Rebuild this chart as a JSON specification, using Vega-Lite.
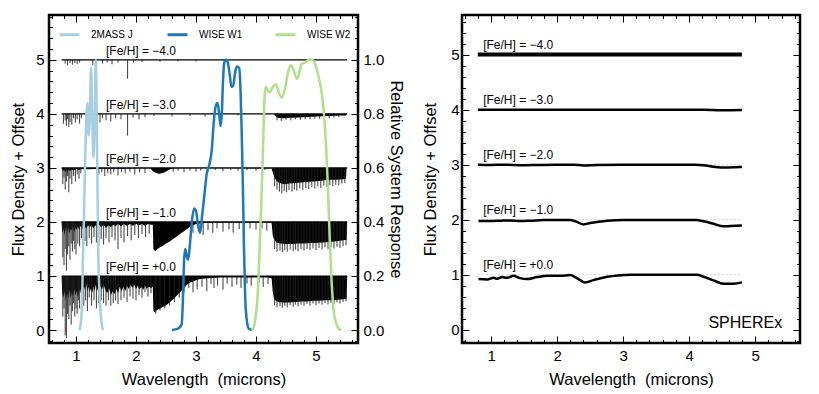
{
"$schema":"https://vega.github.io/schema/vega-lite/v6.json",
"padding":{"left":9,"top":8,"right":5,"bottom":5},
"background":"white",
"spacing":15,
"datasets":{
"spec":[
{"c":1,"w":0.76,"f":1},{"c":1,"w":0.77,"f":0.70},{"c":1,"w":0.79,"f":0.60},{"c":1,"w":0.81,"f":0.72},{"c":1,"w":0.83,"f":0.55},{"c":1,"w":0.85,"f":0.68},{"c":1,"w":0.87,"f":0.58},{"c":1,"w":0.89,"f":0.74},{"c":1,"w":0.91,"f":0.58},{"c":1,"w":0.93,"f":0.70},{"c":1,"w":0.95,"f":0.62},{"c":1,"w":0.97,"f":0.76},{"c":1,"w":0.99,"f":0.64},{"c":1,"w":1.01,"f":0.72},{"c":1,"w":1.03,"f":0.60},{"c":1,"w":1.05,"f":0.75},{"c":1,"w":1.07,"f":0.68},{"c":1,"w":1.09,"f":0.80},{"c":1,"w":1.11,"f":0.70},{"c":1,"w":1.13,"f":0.82},{"c":1,"w":1.15,"f":0.74},{"c":1,"w":1.17,"f":0.85},{"c":1,"w":1.19,"f":0.72},{"c":1,"w":1.21,"f":0.80},{"c":1,"w":1.23,"f":0.70},{"c":1,"w":1.25,"f":0.78},{"c":1,"w":1.27,"f":0.68},{"c":1,"w":1.29,"f":0.80},{"c":1,"w":1.31,"f":0.72},{"c":1,"w":1.33,"f":0.84},{"c":1,"w":1.35,"f":0.78},{"c":1,"w":1.37,"f":0.70},{"c":1,"w":1.40,"f":0.82},{"c":1,"w":1.43,"f":0.74},{"c":1,"w":1.46,"f":0.84},{"c":1,"w":1.49,"f":0.74},{"c":1,"w":1.52,"f":0.68},{"c":1,"w":1.55,"f":0.78},{"c":1,"w":1.58,"f":0.64},{"c":1,"w":1.61,"f":0.72},{"c":1,"w":1.64,"f":0.66},{"c":1,"w":1.67,"f":0.76},{"c":1,"w":1.70,"f":0.68},{"c":1,"w":1.73,"f":0.80},{"c":1,"w":1.76,"f":0.72},{"c":1,"w":1.79,"f":0.80},{"c":1,"w":1.82,"f":0.72},{"c":1,"w":1.85,"f":0.82},{"c":1,"w":1.88,"f":0.76},{"c":1,"w":1.91,"f":0.84},{"c":1,"w":1.94,"f":0.78},{"c":1,"w":1.97,"f":0.84},{"c":1,"w":2.00,"f":0.76},{"c":1,"w":2.03,"f":0.82},{"c":1,"w":2.06,"f":0.75},{"c":1,"w":2.09,"f":0.80},{"c":1,"w":2.12,"f":0.74},{"c":1,"w":2.15,"f":0.82},{"c":1,"w":2.18,"f":0.76},{"c":1,"w":2.21,"f":0.80},{"c":1,"w":2.25,"f":0.78},{"c":1,"w":2.28,"f":0.80},{"c":1,"w":2.29,"f":0.36},{"c":1,"w":2.31,"f":0.33},{"c":1,"w":2.35,"f":0.37},{"c":1,"w":2.40,"f":0.40},{"c":1,"w":2.45,"f":0.43},{"c":1,"w":2.50,"f":0.46},{"c":1,"w":2.55,"f":0.50},{"c":1,"w":2.60,"f":0.55},{"c":1,"w":2.65,"f":0.60},{"c":1,"w":2.70,"f":0.66},{"c":1,"w":2.75,"f":0.72},{"c":1,"w":2.80,"f":0.78},{"c":1,"w":2.85,"f":0.84},{"c":1,"w":2.90,"f":0.88},{"c":1,"w":2.95,"f":0.90},{"c":1,"w":3.00,"f":0.92},{"c":1,"w":3.05,"f":0.94},{"c":1,"w":3.10,"f":0.95},{"c":1,"w":3.20,"f":0.96},{"c":1,"w":3.40,"f":0.97},{"c":1,"w":3.60,"f":0.97},{"c":1,"w":3.80,"f":0.97},{"c":1,"w":4.00,"f":0.97},{"c":1,"w":4.20,"f":0.97},{"c":1,"w":4.26,"f":0.96},{"c":1,"w":4.28,"f":0.70},{"c":1,"w":4.30,"f":0.58},{"c":1,"w":4.33,"f":0.54},{"c":1,"w":4.38,"f":0.52},{"c":1,"w":4.45,"f":0.51},{"c":1,"w":4.55,"f":0.51},{"c":1,"w":4.65,"f":0.52},{"c":1,"w":4.75,"f":0.53},{"c":1,"w":4.85,"f":0.53},{"c":1,"w":4.95,"f":0.54},{"c":1,"w":5.05,"f":0.54},{"c":1,"w":5.15,"f":0.55},{"c":1,"w":5.25,"f":0.55},{"c":1,"w":5.35,"f":0.56},{"c":1,"w":5.45,"f":0.57},{"c":1,"w":5.51,"f":0.58},{"c":1,"w":5.52,"f":1},
{"c":2,"w":0.76,"f":2},{"c":2,"w":0.77,"f":1.80},{"c":2,"w":0.79,"f":1.88},{"c":2,"w":0.81,"f":1.75},{"c":2,"w":0.83,"f":1.90},{"c":2,"w":0.85,"f":1.82},{"c":2,"w":0.87,"f":1.90},{"c":2,"w":0.89,"f":1.78},{"c":2,"w":0.91,"f":1.88},{"c":2,"w":0.93,"f":1.84},{"c":2,"w":0.95,"f":1.92},{"c":2,"w":0.97,"f":1.80},{"c":2,"w":0.99,"f":1.90},{"c":2,"w":1.01,"f":1.85},{"c":2,"w":1.03,"f":1.92},{"c":2,"w":1.05,"f":1.86},{"c":2,"w":1.08,"f":1.93},{"c":2,"w":1.11,"f":1.87},{"c":2,"w":1.14,"f":1.93},{"c":2,"w":1.17,"f":1.88},{"c":2,"w":1.20,"f":1.94},{"c":2,"w":1.23,"f":1.90},{"c":2,"w":1.26,"f":1.94},{"c":2,"w":1.29,"f":1.88},{"c":2,"w":1.32,"f":1.94},{"c":2,"w":1.35,"f":1.90},{"c":2,"w":1.38,"f":1.95},{"c":2,"w":1.42,"f":1.90},{"c":2,"w":1.46,"f":1.95},{"c":2,"w":1.50,"f":1.89},{"c":2,"w":1.54,"f":1.94},{"c":2,"w":1.58,"f":1.90},{"c":2,"w":1.62,"f":1.95},{"c":2,"w":1.66,"f":1.92},{"c":2,"w":1.70,"f":1.96},{"c":2,"w":1.75,"f":1.92},{"c":2,"w":1.80,"f":1.96},{"c":2,"w":1.85,"f":1.93},{"c":2,"w":1.90,"f":1.96},{"c":2,"w":1.95,"f":1.93},{"c":2,"w":2.00,"f":1.96},{"c":2,"w":2.05,"f":1.94},{"c":2,"w":2.10,"f":1.96},{"c":2,"w":2.15,"f":1.93},{"c":2,"w":2.20,"f":1.96},{"c":2,"w":2.25,"f":1.95},{"c":2,"w":2.28,"f":1.95},{"c":2,"w":2.29,"f":1.50},{"c":2,"w":2.32,"f":1.46},{"c":2,"w":2.36,"f":1.50},{"c":2,"w":2.40,"f":1.53},{"c":2,"w":2.45,"f":1.56},{"c":2,"w":2.50,"f":1.60},{"c":2,"w":2.55,"f":1.63},{"c":2,"w":2.60,"f":1.67},{"c":2,"w":2.65,"f":1.71},{"c":2,"w":2.70,"f":1.75},{"c":2,"w":2.75,"f":1.79},{"c":2,"w":2.80,"f":1.83},{"c":2,"w":2.85,"f":1.87},{"c":2,"w":2.90,"f":1.91},{"c":2,"w":2.95,"f":1.94},{"c":2,"w":3.00,"f":1.96},{"c":2,"w":3.10,"f":1.98},{"c":2,"w":3.30,"f":1.985},{"c":2,"w":3.60,"f":1.985},{"c":2,"w":3.90,"f":1.985},{"c":2,"w":4.20,"f":1.985},{"c":2,"w":4.26,"f":1.98},{"c":2,"w":4.28,"f":1.75},{"c":2,"w":4.30,"f":1.68},{"c":2,"w":4.34,"f":1.62},{"c":2,"w":4.40,"f":1.60},{"c":2,"w":4.50,"f":1.59},{"c":2,"w":4.60,"f":1.59},{"c":2,"w":4.70,"f":1.60},{"c":2,"w":4.80,"f":1.60},{"c":2,"w":4.90,"f":1.61},{"c":2,"w":5.00,"f":1.61},{"c":2,"w":5.10,"f":1.62},{"c":2,"w":5.20,"f":1.63},{"c":2,"w":5.30,"f":1.64},{"c":2,"w":5.40,"f":1.65},{"c":2,"w":5.45,"f":1.66},{"c":2,"w":5.51,"f":1.67},{"c":2,"w":5.52,"f":2},
{"c":3,"w":0.76,"f":3},{"c":3,"w":0.78,"f":2.94},{"c":3,"w":0.80,"f":2.97},{"c":3,"w":0.82,"f":2.92},{"c":3,"w":0.84,"f":2.96},{"c":3,"w":0.86,"f":2.93},{"c":3,"w":0.88,"f":2.97},{"c":3,"w":0.90,"f":2.94},{"c":3,"w":0.93,"f":2.97},{"c":3,"w":0.96,"f":2.95},{"c":3,"w":1.00,"f":2.98},{"c":3,"w":1.05,"f":2.96},{"c":3,"w":1.10,"f":2.98},{"c":3,"w":1.20,"f":2.975},{"c":3,"w":1.30,"f":2.98},{"c":3,"w":1.40,"f":2.985},{"c":3,"w":1.60,"f":2.985},{"c":3,"w":1.80,"f":2.985},{"c":3,"w":2.00,"f":2.99},{"c":3,"w":2.24,"f":2.99},{"c":3,"w":2.28,"f":2.94},{"c":3,"w":2.33,"f":2.91},{"c":3,"w":2.38,"f":2.89},{"c":3,"w":2.43,"f":2.90},{"c":3,"w":2.48,"f":2.92},{"c":3,"w":2.53,"f":2.95},{"c":3,"w":2.58,"f":2.98},{"c":3,"w":2.65,"f":2.99},{"c":3,"w":3.00,"f":2.995},{"c":3,"w":4.26,"f":2.99},{"c":3,"w":4.29,"f":2.88},{"c":3,"w":4.32,"f":2.80},{"c":3,"w":4.36,"f":2.74},{"c":3,"w":4.42,"f":2.71},{"c":3,"w":4.48,"f":2.70},{"c":3,"w":4.55,"f":2.71},{"c":3,"w":4.65,"f":2.72},{"c":3,"w":4.75,"f":2.73},{"c":3,"w":4.85,"f":2.74},{"c":3,"w":4.95,"f":2.75},{"c":3,"w":5.05,"f":2.76},{"c":3,"w":5.15,"f":2.77},{"c":3,"w":5.25,"f":2.78},{"c":3,"w":5.35,"f":2.78},{"c":3,"w":5.45,"f":2.79},{"c":3,"w":5.50,"f":2.80},{"c":3,"w":5.51,"f":3},
{"c":4,"w":4.30,"f":4},{"c":4,"w":4.32,"f":3.96},{"c":4,"w":4.36,"f":3.93},{"c":4,"w":4.45,"f":3.92},{"c":4,"w":4.60,"f":3.93},{"c":4,"w":4.80,"f":3.94},{"c":4,"w":5.00,"f":3.95},{"c":4,"w":5.20,"f":3.96},{"c":4,"w":5.40,"f":3.97},{"c":4,"w":5.50,"f":3.97},{"c":4,"w":5.51,"f":4}
],
"spikes":[
{"c":1,"w":0.78,"f":0.25},{"c":1,"w":0.80,"f":0.40},{"c":1,"w":0.82,"f":-0.10},{"c":1,"w":0.84,"f":-0.15},{"c":1,"w":0.86,"f":0.30},{"c":1,"w":0.88,"f":0.20},{"c":1,"w":0.90,"f":0.45},{"c":1,"w":0.92,"f":0.10},{"c":1,"w":0.94,"f":0.35},{"c":1,"w":0.96,"f":0.50},{"c":1,"w":0.98,"f":0.25},{"c":1,"w":1.00,"f":0.40},{"c":1,"w":1.02,"f":0.30},{"c":1,"w":1.04,"f":0.55},{"c":1,"w":1.06,"f":0.40},{"c":1,"w":1.10,"f":0.50},{"c":1,"w":1.13,"f":0.45},{"c":1,"w":1.16,"f":0.55},{"c":1,"w":1.19,"f":0.35},{"c":1,"w":1.22,"f":0.60},{"c":1,"w":1.26,"f":0.45},{"c":1,"w":1.30,"f":0.55},{"c":1,"w":1.34,"f":0.40},{"c":1,"w":1.38,"f":0.50},{"c":1,"w":1.42,"f":0.55},{"c":1,"w":1.46,"f":0.50},{"c":1,"w":1.50,"f":0.45},{"c":1,"w":1.54,"f":0.55},{"c":1,"w":1.58,"f":0.45},{"c":1,"w":1.62,"f":0.50},{"c":1,"w":1.66,"f":0.55},{"c":1,"w":1.70,"f":0.48},{"c":1,"w":1.75,"f":0.55},{"c":1,"w":1.80,"f":0.60},{"c":1,"w":1.85,"f":0.52},{"c":1,"w":1.90,"f":0.62},{"c":1,"w":1.95,"f":0.58},{"c":1,"w":2.00,"f":0.55},{"c":1,"w":2.05,"f":0.65},{"c":1,"w":2.10,"f":0.60},{"c":1,"w":2.15,"f":0.70},{"c":1,"w":2.20,"f":0.62},{"c":1,"w":2.25,"f":0.68},{"c":1,"w":2.33,"f":0.30},{"c":1,"w":2.40,"f":0.36},{"c":1,"w":2.48,"f":0.40},{"c":1,"w":2.56,"f":0.45},{"c":1,"w":2.64,"f":0.52},{"c":1,"w":2.72,"f":0.60},{"c":1,"w":2.80,"f":0.70},{"c":1,"w":2.88,"f":0.78},{"c":1,"w":2.95,"f":0.70},{"c":1,"w":3.02,"f":0.75},{"c":1,"w":3.10,"f":0.80},{"c":1,"w":3.18,"f":0.72},{"c":1,"w":3.25,"f":0.85},{"c":1,"w":3.30,"f":0.78},{"c":1,"w":3.36,"f":0.82},{"c":1,"w":3.45,"f":0.75},{"c":1,"w":3.52,"f":0.86},{"c":1,"w":3.60,"f":0.80},{"c":1,"w":3.68,"f":0.84},{"c":1,"w":3.75,"f":0.78},{"c":1,"w":3.85,"f":0.86},{"c":1,"w":3.92,"f":0.82},{"c":1,"w":4.05,"f":0.88},{"c":1,"w":4.12,"f":0.80},{"c":1,"w":4.20,"f":0.85},{"c":1,"w":4.31,"f":0.46},{"c":1,"w":4.35,"f":0.42},{"c":1,"w":4.40,"f":0.44},{"c":1,"w":4.44,"f":0.41},{"c":1,"w":4.48,"f":0.45},{"c":1,"w":4.52,"f":0.42},{"c":1,"w":4.57,"f":0.46},{"c":1,"w":4.62,"f":0.43},{"c":1,"w":4.66,"f":0.47},{"c":1,"w":4.70,"f":0.44},{"c":1,"w":4.75,"f":0.47},{"c":1,"w":4.80,"f":0.45},{"c":1,"w":4.85,"f":0.48},{"c":1,"w":4.90,"f":0.45},{"c":1,"w":4.95,"f":0.49},{"c":1,"w":5.00,"f":0.46},{"c":1,"w":5.05,"f":0.49},{"c":1,"w":5.10,"f":0.47},{"c":1,"w":5.15,"f":0.50},{"c":1,"w":5.20,"f":0.47},{"c":1,"w":5.25,"f":0.50},{"c":1,"w":5.30,"f":0.48},{"c":1,"w":5.35,"f":0.51},{"c":1,"w":5.40,"f":0.49},{"c":1,"w":5.45,"f":0.52},{"c":1,"w":5.50,"f":0.53},
{"c":2,"w":0.78,"f":1.35},{"c":2,"w":0.80,"f":1.20},{"c":2,"w":0.82,"f":1.50},{"c":2,"w":0.84,"f":1.10},{"c":2,"w":0.86,"f":1.40},{"c":2,"w":0.88,"f":1.55},{"c":2,"w":0.90,"f":1.30},{"c":2,"w":0.92,"f":1.60},{"c":2,"w":0.94,"f":1.45},{"c":2,"w":0.96,"f":1.65},{"c":2,"w":0.98,"f":1.50},{"c":2,"w":1.00,"f":1.40},{"c":2,"w":1.03,"f":1.60},{"c":2,"w":1.06,"f":1.55},{"c":2,"w":1.09,"f":1.70},{"c":2,"w":1.12,"f":1.50},{"c":2,"w":1.15,"f":1.65},{"c":2,"w":1.18,"f":1.55},{"c":2,"w":1.22,"f":1.70},{"c":2,"w":1.26,"f":1.60},{"c":2,"w":1.30,"f":1.72},{"c":2,"w":1.34,"f":1.62},{"c":2,"w":1.38,"f":1.55},{"c":2,"w":1.42,"f":1.68},{"c":2,"w":1.46,"f":1.58},{"c":2,"w":1.50,"f":1.70},{"c":2,"w":1.55,"f":1.62},{"c":2,"w":1.60,"f":1.72},{"c":2,"w":1.65,"f":1.66},{"c":2,"w":1.70,"f":1.50},{"c":2,"w":1.75,"f":1.70},{"c":2,"w":1.80,"f":1.62},{"c":2,"w":1.86,"f":1.74},{"c":2,"w":1.92,"f":1.66},{"c":2,"w":1.98,"f":1.76},{"c":2,"w":2.04,"f":1.70},{"c":2,"w":2.10,"f":1.78},{"c":2,"w":2.16,"f":1.72},{"c":2,"w":2.22,"f":1.78},{"c":2,"w":2.95,"f":1.80},{"c":2,"w":3.05,"f":1.82},{"c":2,"w":3.12,"f":1.76},{"c":2,"w":3.20,"f":1.85},{"c":2,"w":3.28,"f":1.80},{"c":2,"w":3.35,"f":1.88},{"c":2,"w":3.45,"f":1.82},{"c":2,"w":3.55,"f":1.86},{"c":2,"w":3.62,"f":1.80},{"c":2,"w":3.72,"f":1.87},{"c":2,"w":3.80,"f":1.84},{"c":2,"w":3.90,"f":1.88},{"c":2,"w":4.00,"f":1.86},{"c":2,"w":4.10,"f":1.88},{"c":2,"w":4.18,"f":1.84},{"c":2,"w":4.31,"f":1.50},{"c":2,"w":4.35,"f":1.45},{"c":2,"w":4.40,"f":1.47},{"c":2,"w":4.44,"f":1.44},{"c":2,"w":4.48,"f":1.48},{"c":2,"w":4.52,"f":1.45},{"c":2,"w":4.57,"f":1.49},{"c":2,"w":4.62,"f":1.46},{"c":2,"w":4.66,"f":1.49},{"c":2,"w":4.70,"f":1.46},{"c":2,"w":4.75,"f":1.50},{"c":2,"w":4.80,"f":1.47},{"c":2,"w":4.85,"f":1.50},{"c":2,"w":4.90,"f":1.48},{"c":2,"w":4.95,"f":1.51},{"c":2,"w":5.00,"f":1.48},{"c":2,"w":5.05,"f":1.52},{"c":2,"w":5.10,"f":1.49},{"c":2,"w":5.15,"f":1.53},{"c":2,"w":5.20,"f":1.50},{"c":2,"w":5.25,"f":1.53},{"c":2,"w":5.30,"f":1.51},{"c":2,"w":5.35,"f":1.54},{"c":2,"w":5.40,"f":1.52},{"c":2,"w":5.45,"f":1.55},{"c":2,"w":5.50,"f":1.57},
{"c":3,"w":0.78,"f":2.70},{"c":3,"w":0.80,"f":2.82},{"c":3,"w":0.82,"f":2.60},{"c":3,"w":0.84,"f":2.75},{"c":3,"w":0.86,"f":2.85},{"c":3,"w":0.88,"f":2.55},{"c":3,"w":0.90,"f":2.80},{"c":3,"w":0.93,"f":2.70},{"c":3,"w":0.96,"f":2.85},{"c":3,"w":0.99,"f":2.75},{"c":3,"w":1.02,"f":2.88},{"c":3,"w":1.05,"f":2.80},{"c":3,"w":1.08,"f":2.90},{"c":3,"w":1.38,"f":2.88},{"c":3,"w":1.43,"f":2.92},{"c":3,"w":1.48,"f":2.85},{"c":3,"w":1.53,"f":2.90},{"c":3,"w":1.58,"f":2.88},{"c":3,"w":1.63,"f":2.92},{"c":3,"w":1.70,"f":2.86},{"c":3,"w":1.76,"f":2.92},{"c":3,"w":1.82,"f":2.90},{"c":3,"w":1.90,"f":2.93},{"c":3,"w":1.98,"f":2.88},{"c":3,"w":2.06,"f":2.92},{"c":3,"w":2.15,"f":2.90},{"c":3,"w":2.62,"f":2.93},{"c":3,"w":2.70,"f":2.95},{"c":3,"w":2.80,"f":2.92},{"c":3,"w":2.90,"f":2.95},{"c":3,"w":3.00,"f":2.93},{"c":3,"w":3.08,"f":2.95},{"c":3,"w":3.20,"f":2.94},{"c":3,"w":3.32,"f":2.96},{"c":3,"w":3.45,"f":2.94},{"c":3,"w":3.58,"f":2.96},{"c":3,"w":3.70,"f":2.95},{"c":3,"w":3.85,"f":2.96},{"c":3,"w":4.00,"f":2.95},{"c":3,"w":4.15,"f":2.96},{"c":3,"w":4.31,"f":2.66},{"c":3,"w":4.35,"f":2.60},{"c":3,"w":4.39,"f":2.56},{"c":3,"w":4.43,"f":2.53},{"c":3,"w":4.47,"f":2.57},{"c":3,"w":4.51,"f":2.55},{"c":3,"w":4.55,"f":2.59},{"c":3,"w":4.60,"f":2.56},{"c":3,"w":4.64,"f":2.60},{"c":3,"w":4.68,"f":2.58},{"c":3,"w":4.73,"f":2.62},{"c":3,"w":4.78,"f":2.59},{"c":3,"w":4.83,"f":2.63},{"c":3,"w":4.88,"f":2.61},{"c":3,"w":4.93,"f":2.64},{"c":3,"w":4.98,"f":2.62},{"c":3,"w":5.03,"f":2.66},{"c":3,"w":5.08,"f":2.63},{"c":3,"w":5.13,"f":2.67},{"c":3,"w":5.18,"f":2.65},{"c":3,"w":5.23,"f":2.68},{"c":3,"w":5.28,"f":2.66},{"c":3,"w":5.33,"f":2.69},{"c":3,"w":5.38,"f":2.68},{"c":3,"w":5.43,"f":2.71},{"c":3,"w":5.48,"f":2.72},
{"c":4,"w":0.79,"f":3.82},{"c":4,"w":0.82,"f":3.88},{"c":4,"w":0.84,"f":3.78},{"c":4,"w":0.86,"f":3.90},{"c":4,"w":0.88,"f":3.76},{"c":4,"w":0.90,"f":3.85},{"c":4,"w":0.93,"f":3.80},{"c":4,"w":0.96,"f":3.92},{"c":4,"w":0.99,"f":3.84},{"c":4,"w":1.02,"f":3.90},{"c":4,"w":1.06,"f":3.82},{"c":4,"w":1.09,"f":3.92},{"c":4,"w":1.40,"f":3.84},{"c":4,"w":1.44,"f":3.92},{"c":4,"w":1.50,"f":3.88},{"c":4,"w":1.58,"f":3.86},{"c":4,"w":1.66,"f":3.92},{"c":4,"w":1.75,"f":3.90},{"c":4,"w":1.86,"f":3.60},{"c":4,"w":1.95,"f":3.93},{"c":4,"w":2.05,"f":3.90},{"c":4,"w":2.15,"f":3.94},{"c":4,"w":2.30,"f":3.96},{"c":4,"w":2.60,"f":3.95},{"c":4,"w":2.90,"f":3.96},{"c":4,"w":3.15,"f":3.95},{"c":4,"w":3.40,"f":3.96},{"c":4,"w":3.70,"f":3.97},{"c":4,"w":4.35,"f":3.88},{"c":4,"w":4.42,"f":3.87},{"c":4,"w":4.50,"f":3.89},{"c":4,"w":4.58,"f":3.88},{"c":4,"w":4.66,"f":3.90},{"c":4,"w":4.74,"f":3.89},{"c":4,"w":4.82,"f":3.90},{"c":4,"w":4.90,"f":3.90},{"c":4,"w":4.98,"f":3.91},{"c":4,"w":5.06,"f":3.91},{"c":4,"w":5.14,"f":3.92},{"c":4,"w":5.22,"f":3.92},{"c":4,"w":5.30,"f":3.93},{"c":4,"w":5.38,"f":3.94},
{"c":5,"w":0.82,"f":4.93},{"c":5,"w":0.86,"f":4.90},{"c":5,"w":0.90,"f":4.94},{"c":5,"w":0.94,"f":4.91},{"c":5,"w":0.98,"f":4.94},{"c":5,"w":1.02,"f":4.92},{"c":5,"w":1.06,"f":4.95},{"c":5,"w":1.28,"f":4.90},{"c":5,"w":1.44,"f":4.93},{"c":5,"w":1.52,"f":4.95},{"c":5,"w":1.60,"f":4.92},{"c":5,"w":1.70,"f":4.95},{"c":5,"w":1.86,"f":4.65},{"c":5,"w":1.96,"f":4.95},{"c":5,"w":2.10,"f":4.96},{"c":5,"w":2.40,"f":4.96},{"c":5,"w":2.70,"f":4.97},{"c":5,"w":3.00,"f":4.97}
],
"cont":[{"c":1,"w":0.76,"w2":5.52},{"c":2,"w":0.76,"w2":5.52},{"c":3,"w":0.76,"w2":5.52},{"c":4,"w":0.76,"w2":5.52},{"c":5,"w":0.76,"w2":5.52}],
"labL":[{"w":1.5,"y":5.16,"t":"[Fe/H] = −4.0"},{"w":1.5,"y":4.16,"t":"[Fe/H] = −3.0"},{"w":1.5,"y":3.16,"t":"[Fe/H] = −2.0"},{"w":1.5,"y":2.16,"t":"[Fe/H] = −1.0"},{"w":1.5,"y":1.16,"t":"[Fe/H] = +0.0"}],
"labR":[{"w":0.88,"y":5.17,"t":"[Fe/H] = −4.0"},{"w":0.88,"y":4.17,"t":"[Fe/H] = −3.0"},{"w":0.88,"y":3.17,"t":"[Fe/H] = −2.0"},{"w":0.88,"y":2.17,"t":"[Fe/H] = −1.0"},{"w":0.88,"y":1.17,"t":"[Fe/H] = +0.0"}],
"filt":[
{"b":"2MASS J","w":1.06,"r":0},{"b":"2MASS J","w":1.09,"r":0.05},{"b":"2MASS J","w":1.12,"r":0.3},{"b":"2MASS J","w":1.15,"r":0.6},{"b":"2MASS J","w":1.17,"r":0.78},{"b":"2MASS J","w":1.19,"r":0.84},{"b":"2MASS J","w":1.21,"r":0.72},{"b":"2MASS J","w":1.23,"r":0.78},{"b":"2MASS J","w":1.25,"r":0.97},{"b":"2MASS J","w":1.27,"r":0.80},{"b":"2MASS J","w":1.29,"r":0.64},{"b":"2MASS J","w":1.31,"r":0.75},{"b":"2MASS J","w":1.33,"r":1.0},{"b":"2MASS J","w":1.35,"r":0.7},{"b":"2MASS J","w":1.37,"r":0.3},{"b":"2MASS J","w":1.40,"r":0.1},{"b":"2MASS J","w":1.43,"r":0.02},{"b":"2MASS J","w":1.45,"r":0},
{"b":"WISE W1","w":2.60,"r":0},{"b":"WISE W1","w":2.70,"r":0.005},{"b":"WISE W1","w":2.76,"r":0.02},{"b":"WISE W1","w":2.78,"r":0.1},{"b":"WISE W1","w":2.80,"r":0.25},{"b":"WISE W1","w":2.82,"r":0.30},{"b":"WISE W1","w":2.85,"r":0.27},{"b":"WISE W1","w":2.87,"r":0.26},{"b":"WISE W1","w":2.90,"r":0.32},{"b":"WISE W1","w":2.93,"r":0.40},{"b":"WISE W1","w":2.97,"r":0.45},{"b":"WISE W1","w":3.00,"r":0.44},{"b":"WISE W1","w":3.04,"r":0.38},{"b":"WISE W1","w":3.07,"r":0.36},{"b":"WISE W1","w":3.10,"r":0.42},{"b":"WISE W1","w":3.14,"r":0.50},{"b":"WISE W1","w":3.18,"r":0.58},{"b":"WISE W1","w":3.22,"r":0.61},{"b":"WISE W1","w":3.26,"r":0.66},{"b":"WISE W1","w":3.30,"r":0.78},{"b":"WISE W1","w":3.33,"r":0.83},{"b":"WISE W1","w":3.36,"r":0.84},{"b":"WISE W1","w":3.39,"r":0.79},{"b":"WISE W1","w":3.41,"r":0.755},{"b":"WISE W1","w":3.43,"r":0.80},{"b":"WISE W1","w":3.45,"r":0.92},{"b":"WISE W1","w":3.47,"r":0.99},{"b":"WISE W1","w":3.50,"r":1.0},{"b":"WISE W1","w":3.53,"r":0.99},{"b":"WISE W1","w":3.56,"r":0.95},{"b":"WISE W1","w":3.59,"r":0.90},{"b":"WISE W1","w":3.62,"r":0.905},{"b":"WISE W1","w":3.65,"r":0.95},{"b":"WISE W1","w":3.68,"r":0.975},{"b":"WISE W1","w":3.72,"r":0.97},{"b":"WISE W1","w":3.74,"r":0.9},{"b":"WISE W1","w":3.76,"r":0.75},{"b":"WISE W1","w":3.78,"r":0.55},{"b":"WISE W1","w":3.80,"r":0.3},{"b":"WISE W1","w":3.82,"r":0.12},{"b":"WISE W1","w":3.85,"r":0.03},{"b":"WISE W1","w":3.88,"r":0.005},{"b":"WISE W1","w":3.93,"r":0},
{"b":"WISE W2","w":3.93,"r":0},{"b":"WISE W2","w":3.96,"r":0.01},{"b":"WISE W2","w":4.0,"r":0.06},{"b":"WISE W2","w":4.03,"r":0.14},{"b":"WISE W2","w":4.06,"r":0.30},{"b":"WISE W2","w":4.09,"r":0.48},{"b":"WISE W2","w":4.12,"r":0.70},{"b":"WISE W2","w":4.14,"r":0.85},{"b":"WISE W2","w":4.16,"r":0.90},{"b":"WISE W2","w":4.20,"r":0.885},{"b":"WISE W2","w":4.23,"r":0.88},{"b":"WISE W2","w":4.28,"r":0.90},{"b":"WISE W2","w":4.33,"r":0.91},{"b":"WISE W2","w":4.38,"r":0.88},{"b":"WISE W2","w":4.43,"r":0.86},{"b":"WISE W2","w":4.48,"r":0.89},{"b":"WISE W2","w":4.53,"r":0.95},{"b":"WISE W2","w":4.58,"r":0.98},{"b":"WISE W2","w":4.63,"r":0.96},{"b":"WISE W2","w":4.68,"r":0.93},{"b":"WISE W2","w":4.72,"r":0.95},{"b":"WISE W2","w":4.76,"r":0.985},{"b":"WISE W2","w":4.82,"r":0.99},{"b":"WISE W2","w":4.88,"r":1.0},{"b":"WISE W2","w":4.94,"r":1.0},{"b":"WISE W2","w":5.0,"r":0.975},{"b":"WISE W2","w":5.05,"r":0.93},{"b":"WISE W2","w":5.10,"r":0.87},{"b":"WISE W2","w":5.14,"r":0.78},{"b":"WISE W2","w":5.17,"r":0.67},{"b":"WISE W2","w":5.20,"r":0.52},{"b":"WISE W2","w":5.23,"r":0.33},{"b":"WISE W2","w":5.26,"r":0.18},{"b":"WISE W2","w":5.29,"r":0.08},{"b":"WISE W2","w":5.33,"r":0.03},{"b":"WISE W2","w":5.38,"r":0.005},{"b":"WISE W2","w":5.42,"r":0}
],
"sph":[
{"c":5,"w":0.8,"f":5},{"c":5,"w":2.0,"f":5},{"c":5,"w":3.5,"f":5},{"c":5,"w":4.8,"f":5},
{"c":4,"w":0.8,"f":4},{"c":4,"w":2.0,"f":4},{"c":4,"w":4.2,"f":4},{"c":4,"w":4.5,"f":3.99},{"c":4,"w":4.8,"f":3.995},
{"c":3,"w":0.8,"f":3},{"c":3,"w":1.0,"f":2.995},{"c":3,"w":1.2,"f":3},{"c":3,"w":1.5,"f":2.99},{"c":3,"w":1.7,"f":2.995},{"c":3,"w":2.0,"f":3},{"c":3,"w":2.25,"f":3},{"c":3,"w":2.4,"f":2.985},{"c":3,"w":2.6,"f":2.995},{"c":3,"w":3.0,"f":3},{"c":3,"w":4.1,"f":3},{"c":3,"w":4.25,"f":2.985},{"c":3,"w":4.4,"f":2.96},{"c":3,"w":4.55,"f":2.95},{"c":3,"w":4.7,"f":2.955},{"c":3,"w":4.8,"f":2.96},
{"c":2,"w":0.81,"f":1.976},{"c":2,"w":0.99,"f":1.976},{"c":2,"w":1.14,"f":1.982},{"c":2,"w":1.29,"f":1.988},{"c":2,"w":1.44,"f":1.976},{"c":2,"w":1.6,"f":1.982},{"c":2,"w":1.8,"f":1.994},{"c":2,"w":2.2,"f":1.994},{"c":2,"w":2.28,"f":1.97},{"c":2,"w":2.4,"f":1.915},{"c":2,"w":2.5,"f":1.94},{"c":2,"w":2.76,"f":1.982},{"c":2,"w":3.01,"f":1.994},{"c":2,"w":4.12,"f":1.994},{"c":2,"w":4.2,"f":1.976},{"c":2,"w":4.37,"f":1.927},{"c":2,"w":4.52,"f":1.88},{"c":2,"w":4.62,"f":1.885},{"c":2,"w":4.8,"f":1.897},
{"c":1,"w":0.81,"f":0.921},{"c":1,"w":0.94,"f":0.915},{"c":1,"w":1.04,"f":0.945},{"c":1,"w":1.09,"f":0.927},{"c":1,"w":1.17,"f":0.958},{"c":1,"w":1.24,"f":0.945},{"c":1,"w":1.34,"f":0.982},{"c":1,"w":1.44,"f":0.939},{"c":1,"w":1.54,"f":0.921},{"c":1,"w":1.70,"f":0.958},{"c":1,"w":1.85,"f":0.982},{"c":1,"w":2.05,"f":0.982},{"c":1,"w":2.20,"f":0.994},{"c":1,"w":2.28,"f":0.952},{"c":1,"w":2.35,"f":0.903},{"c":1,"w":2.42,"f":0.861},{"c":1,"w":2.55,"f":0.903},{"c":1,"w":2.76,"f":0.964},{"c":1,"w":2.92,"f":0.988},{"c":1,"w":3.12,"f":1.0},{"c":1,"w":4.12,"f":1.0},{"c":1,"w":4.22,"f":0.964},{"c":1,"w":4.37,"f":0.897},{"c":1,"w":4.52,"f":0.836},{"c":1,"w":4.67,"f":0.836},{"c":1,"w":4.80,"f":0.861}
],
"refs":[{"c":1,"w":0.8,"w2":4.8},{"c":2,"w":0.8,"w2":4.8},{"c":3,"w":0.8,"w2":4.8},{"c":4,"w":0.8,"w2":4.8},{"c":5,"w":0.8,"w2":4.8}],
"sphx":[{"w":5.41,"y":0.13,"t":"SPHEREx"}]
},
"hconcat":[
{
"width":309,"height":328,
"layer":[
{"data":{"name":"spec"},"mark":{"type":"area","color":"black","interpolate":"linear"},
"encoding":{
"x":{"field":"w","type":"quantitative","title":"Wavelength\u00a0 (microns)","scale":{"domain":[0.55,5.7],"nice":false,"zero":false},
"axis":{"orient":"bottom","values":[0.6,0.8,1,1.2,1.4,1.6,1.8,2,2.2,2.4,2.6,2.8,3,3.2,3.4,3.6,3.8,4,4.2,4.4,4.6,4.8,5,5.2,5.4,5.6],"labelExpr":"abs(datum.value-round(datum.value))<0.001 ? format(datum.value,'d') : ''","tickSize":{"condition":{"test":"abs(datum.value-round(datum.value))<0.001","value":-7},"value":-3.5},"labelPadding":12,"titlePadding":5}},
"y":{"field":"f","type":"quantitative","title":"Flux Density + Offset","scale":{"domain":[-0.24,5.83],"nice":false,"zero":false},
"axis":{"orient":"left","values":[-0.2,0,0.2,0.4,0.6,0.8,1,1.2,1.4,1.6,1.8,2,2.2,2.4,2.6,2.8,3,3.2,3.4,3.6,3.8,4,4.2,4.4,4.6,4.8,5,5.2,5.4,5.6,5.8],"labelExpr":"abs(datum.value-round(datum.value))<0.001 ? format(datum.value,'d') : ''","tickSize":{"condition":{"test":"abs(datum.value-round(datum.value))<0.001","value":-7},"value":-3.5},"labelPadding":12,"titlePadding":9}},
"y2":{"field":"c"},
"detail":{"field":"c"}}},
{"data":{"name":"spikes"},"mark":{"type":"rule","color":"#222","strokeWidth":0.9},
"encoding":{"x":{"field":"w","type":"quantitative","axis":null},"y":{"field":"f","type":"quantitative","scale":{"domain":[-0.24,5.83],"nice":false,"zero":false},"axis":null},"y2":{"field":"c"}}},
{"data":{"name":"cont"},"mark":{"type":"rule","color":"black","strokeWidth":1.2},
"encoding":{"x":{"field":"w","type":"quantitative","axis":null},"x2":{"field":"w2"},"y":{"field":"c","type":"quantitative","scale":{"domain":[-0.24,5.83],"nice":false,"zero":false},"axis":null}}},
{"data":{"name":"labL"},"mark":{"type":"text","align":"left","baseline":"middle","fontSize":12,"font":"Liberation Sans","color":"black"},
"encoding":{"x":{"field":"w","type":"quantitative","axis":null},"y":{"field":"y","type":"quantitative","scale":{"domain":[-0.24,5.83],"nice":false,"zero":false},"axis":null},"text":{"field":"t"}}},
{"data":{"name":"filt"},"mark":{"type":"line","strokeWidth":2.5,"interpolate":"monotone"},
"encoding":{
"x":{"field":"w","type":"quantitative","title":null,
"axis":{"orient":"top","values":[0.6,0.8,1,1.2,1.4,1.6,1.8,2,2.2,2.4,2.6,2.8,3,3.2,3.4,3.6,3.8,4,4.2,4.4,4.6,4.8,5,5.2,5.4,5.6],"labels":false,"title":null,"tickSize":{"condition":{"test":"abs(datum.value-round(datum.value))<0.001","value":-7},"value":-3.5}}},
"y":{"field":"r","type":"quantitative","title":"Relative System Response","scale":{"domain":[-0.048,1.166],"nice":false,"zero":false},
"axis":{"orient":"right","values":[-0.04,0,0.04,0.08,0.12,0.16,0.2,0.24,0.28,0.32,0.36,0.4,0.44,0.48,0.52,0.56,0.6,0.64,0.68,0.72,0.76,0.8,0.84,0.88,0.92,0.96,1,1.04,1.08,1.12,1.16],"labelExpr":"abs(datum.value*5-round(datum.value*5))<0.001 && datum.value>=0 && datum.value<=1 ? format(datum.value,'.1f') : ''","tickSize":{"condition":{"test":"abs(datum.value*5-round(datum.value*5))<0.001","value":-7},"value":-3.5},"labelPadding":12,"titlePadding":4}},
"color":{"field":"b","type":"nominal","title":null,"scale":{"domain":["2MASS J","WISE W1","WISE W2"],"range":["#a6cee3","#1f78b4","#b2df8a"]},
"legend":{"orient":"none","legendX":9,"legendY":8,"direction":"horizontal","columns":3,"gridAlign":"all","symbolType":"stroke","symbolStrokeWidth":3,"symbolSize":400,"labelFontSize":10,"labelFont":"Liberation Sans","labelColor":"black","columnPadding":26,"labelOffset":10}}}}
],
"resolve":{"scale":{"y":"independent"},"axis":{"x":"independent","y":"independent"}}
},
{
"width":338,"height":328,
"layer":[
{"data":{"name":"refs"},"mark":{"type":"rule","color":"#bbbbbb","strokeWidth":0.7,"strokeDash":[2,2]},
"encoding":{
"x":{"field":"w","type":"quantitative","title":null,"scale":{"domain":[0.56,5.68],"nice":false,"zero":false},
"axis":{"orient":"top","values":[0.6,0.8,1,1.2,1.4,1.6,1.8,2,2.2,2.4,2.6,2.8,3,3.2,3.4,3.6,3.8,4,4.2,4.4,4.6,4.8,5,5.2,5.4,5.6],"labels":false,"tickSize":{"condition":{"test":"abs(datum.value-round(datum.value))<0.001","value":-7},"value":-3.5}}},
"x2":{"field":"w2"},
"y":{"field":"c","type":"quantitative","title":null,"scale":{"domain":[-0.24,5.72],"nice":false,"zero":false},
"axis":{"orient":"right","values":[-0.2,0,0.2,0.4,0.6,0.8,1,1.2,1.4,1.6,1.8,2,2.2,2.4,2.6,2.8,3,3.2,3.4,3.6,3.8,4,4.2,4.4,4.6,4.8,5,5.2,5.4,5.6],"labels":false,"tickSize":{"condition":{"test":"abs(datum.value-round(datum.value))<0.001","value":-7},"value":-3.5}}}}},
{"data":{"name":"sph"},"mark":{"type":"line","color":"black","interpolate":"monotone"},
"encoding":{
"x":{"field":"w","type":"quantitative","title":"Wavelength\u00a0 (microns)",
"axis":{"orient":"bottom","values":[0.6,0.8,1,1.2,1.4,1.6,1.8,2,2.2,2.4,2.6,2.8,3,3.2,3.4,3.6,3.8,4,4.2,4.4,4.6,4.8,5,5.2,5.4,5.6],"labelExpr":"abs(datum.value-round(datum.value))<0.001 ? format(datum.value,'d') : ''","tickSize":{"condition":{"test":"abs(datum.value-round(datum.value))<0.001","value":-7},"value":-3.5},"labelPadding":12,"titlePadding":5}},
"y":{"field":"f","type":"quantitative","title":"Flux Density + Offset",
"axis":{"orient":"left","values":[-0.2,0,0.2,0.4,0.6,0.8,1,1.2,1.4,1.6,1.8,2,2.2,2.4,2.6,2.8,3,3.2,3.4,3.6,3.8,4,4.2,4.4,4.6,4.8,5,5.2,5.4,5.6],"labelExpr":"abs(datum.value-round(datum.value))<0.001 ? format(datum.value,'d') : ''","tickSize":{"condition":{"test":"abs(datum.value-round(datum.value))<0.001","value":-7},"value":-3.5},"labelPadding":10,"titlePadding":12}},
"detail":{"field":"c"},
"strokeWidth":{"condition":{"test":"datum.c === 5","value":4},"value":2.5}}},
{"data":{"name":"labR"},"mark":{"type":"text","align":"left","baseline":"middle","fontSize":12,"font":"Liberation Sans","color":"black"},
"encoding":{"x":{"field":"w","type":"quantitative","axis":null},"y":{"field":"y","type":"quantitative","axis":null},"text":{"field":"t"}}},
{"data":{"name":"sphx"},"mark":{"type":"text","align":"right","baseline":"middle","fontSize":16,"font":"Liberation Sans","color":"black"},
"encoding":{"x":{"field":"w","type":"quantitative","axis":null},"y":{"field":"y","type":"quantitative","axis":null},"text":{"field":"t"}}}
],
"resolve":{"axis":{"x":"independent","y":"independent"}}
}
],
"config":{
"view":{"stroke":"black","strokeWidth":2.5},
"axis":{"domain":false,"grid":false,"tickColor":"black","tickWidth":1,"labelFont":"Liberation Sans","labelFontSize":15,"labelColor":"black","titleFont":"Liberation Sans","titleFontSize":16.5,"titleFontWeight":"normal","titleColor":"black","labelOverlap":false,"labelFlush":false,"labelBound":false}
}
}
